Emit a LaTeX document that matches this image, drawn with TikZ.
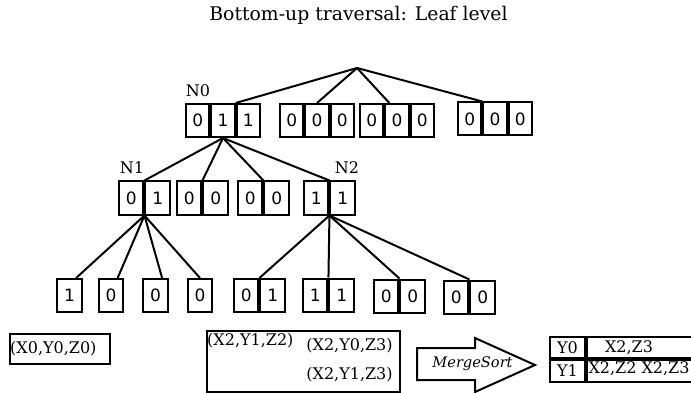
\documentclass[tikz,border=0pt]{standalone}
\usepackage{fontspec}
\setmainfont{DejaVu Serif}
\newfontfamily\cellfont{DejaVu Sans}
\usetikzlibrary{calc}
\tikzset{
  edge/.style={line width=2pt},
  cell/.style={draw, line width=2pt, inner sep=0pt, minimum height=33pt,
    font=\cellfont\fontsize{17}{17}\selectfont},
  cell3/.style={cell, minimum width=23.3pt},
  cell2/.style={cell, minimum width=24.5pt},
  lbl/.style={inner sep=0pt, font=\fontsize{16}{16}\selectfont},
  small/.style={inner sep=0pt, font=\fontsize{16}{16}\selectfont},
  frame/.style={draw, line width=2pt, inner sep=0pt}
}
\begin{document}
\begin{tikzpicture}[x=1pt,y=-1pt]
\useasboundingbox (0,0) rectangle (691,393);

\node[lbl, font=\fontsize{18.8}{18.8}\selectfont] (title) at (358.5,15) {Bottom-up traversal: Leaf level};

% root junction
\coordinate (root) at (357,68);

% top level records
\node[cell3] (n0a) at (197.7,120.5) {0};
\node[cell3, anchor=west] (n0b) at (n0a.east) {1};
\node[cell3, anchor=west] (n0c) at (n0b.east) {1};
\node[lbl, anchor=south] (n0lbl) at (198,97) {N0};

\node[cell3] (b2a) at (291.7,120.5) {0};
\node[cell3, anchor=west] (b2b) at (b2a.east) {0};
\node[cell3, anchor=west] (b2c) at (b2b.east) {0};

\node[cell3] (b3a) at (371.7,120.5) {0};
\node[cell3, anchor=west] (b3b) at (b3a.east) {0};
\node[cell3, anchor=west] (b3c) at (b3b.east) {0};

\node[cell3] (b4a) at (469.7,119) {0};
\node[cell3, anchor=west] (b4b) at (b4a.east) {0};
\node[cell3, anchor=west] (b4c) at (b4b.east) {0};

\draw[edge] (root) -- (n0c.north west);
\draw[edge] (root) -- (b2b.north);
\draw[edge] (root) -- ($(b3a.north east)+(5,0)$);
\draw[edge] (root) -- (b4a.north east);

% second level records
\node[cell2] (n1a) at (131.2,198) {0};
\node[cell2, anchor=west] (n1b) at (n1a.east) {1};
\node[lbl, anchor=south] (n1lbl) at (132,174) {N1};

\node[cell2] (bBa) at (189.2,198) {0};
\node[cell2, anchor=west] (bBb) at (bBa.east) {0};

\node[cell2] (bCa) at (250.2,198) {0};
\node[cell2, anchor=west] (bCb) at (bCa.east) {0};

\node[cell2] (n2a) at (316.2,198) {1};
\node[cell2, anchor=west] (n2b) at (n2a.east) {1};
\node[lbl, anchor=south] (n2lbl) at (347,174) {N2};

\draw[edge] (n0b.south) -- (n1a.north east);
\draw[edge] (n0b.south) -- (bBa.north east);
\draw[edge] (n0b.south) -- (bCa.north east);
\draw[edge] (n0b.south) -- (n2a.north east);

% leaves under N1
\node[cell2] (l1) at (69.5,295.5) {1};
\node[cell2] (l2) at (111,295.5) {0};
\node[cell2] (l3) at (155.5,295.5) {0};
\node[cell2] (l4) at (200,295.5) {0};

\draw[edge] (n1a.south east) -- ($(l1.north)!0.5!(l1.north east)$);
\draw[edge] (n1a.south east) -- ($(l2.north)!0.5!(l2.north east)$);
\draw[edge] (n1a.south east) -- ($(l3.north)!0.5!(l3.north east)$);
\draw[edge] (n1a.south east) -- (l4.north);

% leaves under N2
\node[cell2] (d1a) at (246.2,295.5) {0};
\node[cell2, anchor=west] (d1b) at (d1a.east) {1};
\node[cell2] (d2a) at (315.2,295) {1};
\node[cell2, anchor=west] (d2b) at (d2a.east) {1};
\node[cell2] (d3a) at (386.2,296) {0};
\node[cell2, anchor=west] (d3b) at (d3a.east) {0};
\node[cell2] (d4a) at (456.2,297) {0};
\node[cell2, anchor=west] (d4b) at (d4a.east) {0};

\draw[edge] (n2a.south east) -- (d1a.north east);
\draw[edge] (n2a.south east) -- (d2a.north east);
\draw[edge] (n2a.south east) -- (d3a.north east);
\draw[edge] (n2a.south east) -- (d4a.north east);

% bottom row
\node[frame, minimum width=100pt, minimum height=30pt] (bx0) at (60,349) {};
\node[small, anchor=west] (t0) at ($(bx0.west)+(1,0)$) {(X0,Y0,Z0)};

\node[frame, minimum width=193pt, minimum height=61pt] (bx1) at (303.5,361.5) {};
\node[small, anchor=north west] (t1) at ($(bx1.north west)+(1,3)$) {(X2,Y1,Z2)};
\node[small] (t2) at (349.5,346) {(X2,Y0,Z3)};
\node[small] (t3) at (349.5,375) {(X2,Y1,Z3)};

% MergeSort arrow
\draw[line width=2pt] (417,348) -- (475,348) -- (475,338) -- (535,365)
  -- (475,392) -- (475,380) -- (417,380) -- cycle;
\node[small, font=\itshape\fontsize{14.6}{14.6}\selectfont] (ms) at (472.5,364) {MergeSort};

% result table
\node[frame, minimum width=35pt, minimum height=21.5pt] (ty0) at (567.5,347.5) {};
\node[frame, minimum width=35pt, minimum height=21.5pt, anchor=north] (ty1) at (ty0.south) {};
\node[frame, minimum width=120pt, minimum height=21.5pt, anchor=west] (tv0) at (ty0.east) {};
\node[frame, minimum width=120pt, minimum height=21.5pt, anchor=north] (tv1) at (tv0.south) {};
\node[small] (ky0) at (ty0.center) {Y0};
\node[small] (ky1) at (ty1.center) {Y1};
\node[small] (kv0) at (629,347.5) {X2,Z3};
\node[small] (kv1) at (639,369) {X2,Z2 X2,Z3};
\end{tikzpicture}
\end{document}
